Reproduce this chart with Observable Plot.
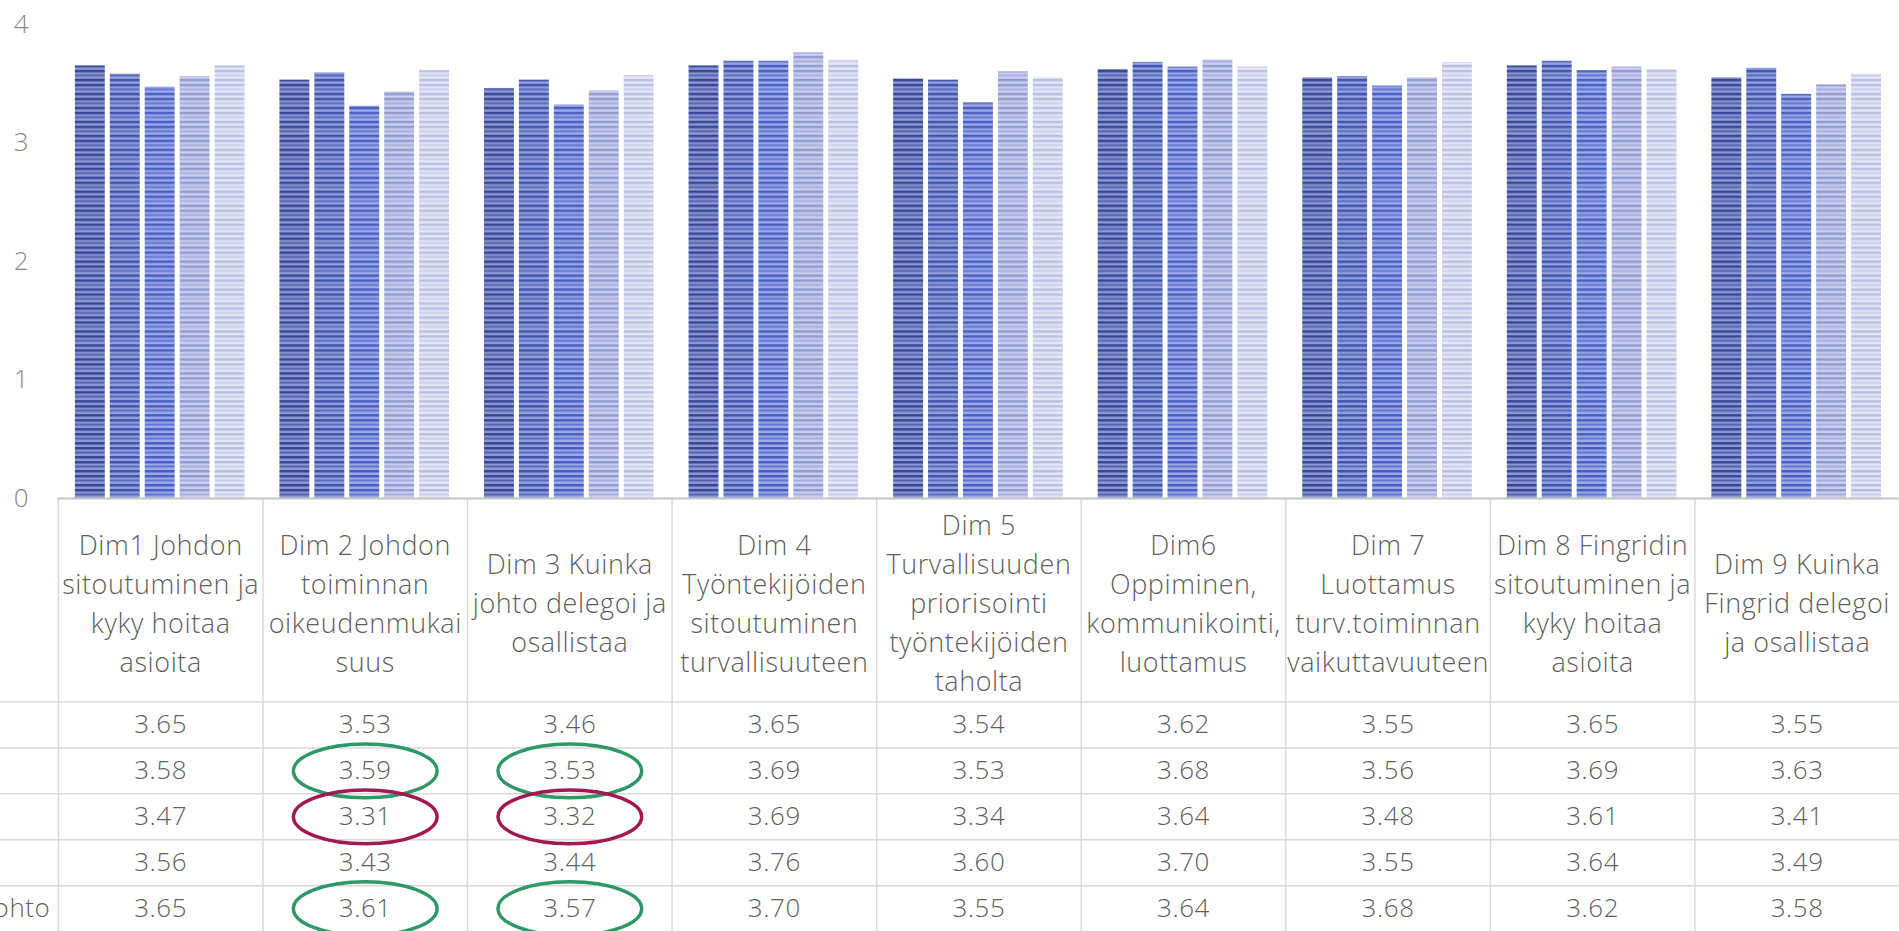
<!DOCTYPE html>
<html>
<head>
<meta charset="utf-8">
<script src="https://cdn.jsdelivr.net/npm/d3@7"></script>
<script src="https://cdn.jsdelivr.net/npm/@observablehq/plot@0.6"></script>
<style>
  html, body { margin: 0; padding: 0; background: #ffffff; }
  #chart { width: 1899px; height: 931px; overflow: hidden; position: relative; background: #fff; }
  #chart svg { display: block; }
  #chart svg.bars { position: relative; z-index: 2; overflow: visible; }
  #chart svg.table { position: relative; z-index: 1; }
</style>
</head>
<body>
<div id="chart"></div>
<script>
// ---------- data ----------
const dims = ["Dim1", "Dim2", "Dim3", "Dim4", "Dim5", "Dim6", "Dim7", "Dim8", "Dim9"];
const dimHeaders = [
  "Dim1 Johdon\nsitoutuminen ja\nkyky hoitaa\nasioita",
  "Dim 2 Johdon\ntoiminnan\noikeudenmukai\nsuus",
  "Dim 3 Kuinka\njohto delegoi ja\nosallistaa",
  "Dim 4\nTyöntekijöiden\nsitoutuminen\nturvallisuuteen",
  "Dim 5\nTurvallisuuden\npriorisointi\ntyöntekijöiden\ntaholta",
  "Dim6\nOppiminen,\nkommunikointi,\nluottamus",
  "Dim 7\nLuottamus\nturv.toiminnan\nvaikuttavuuteen",
  "Dim 8 Fingridin\nsitoutuminen ja\nkyky hoitaa\nasioita",
  "Dim 9 Kuinka\nFingrid delegoi\nja osallistaa"
];
const seriesKeys = ["S1", "S2", "S3", "S4", "S5"];
const rowLabels = ["", "", "", "", "ohto"];   // series names, cropped at the left edge
const series1 = [3.65, 3.53, 3.46, 3.65, 3.54, 3.62, 3.55, 3.65, 3.55];
const series2 = [3.58, 3.59, 3.53, 3.69, 3.53, 3.68, 3.56, 3.69, 3.63];
const series3 = [3.47, 3.31, 3.32, 3.69, 3.34, 3.64, 3.48, 3.61, 3.41];
const series4 = [3.56, 3.43, 3.44, 3.76, 3.60, 3.70, 3.55, 3.64, 3.49];
const series5 = [3.65, 3.61, 3.57, 3.70, 3.55, 3.64, 3.68, 3.62, 3.58];
const yTicks = [0, 1, 2, 3, 4];
const greenMarks = [["Dim2", "S2"], ["Dim3", "S2"], ["Dim2", "S5"], ["Dim3", "S5"]];
const redMarks = [["Dim2", "S3"], ["Dim3", "S3"]];

const seriesValues = [series1, series2, series3, series4, series5];
const table = [];
seriesKeys.forEach((s, si) => dims.forEach((d, di) => table.push({dim: d, series: s, value: seriesValues[si][di]})));
const toObj = ([dim, series]) => ({dim, series});

// ---------- styles ----------
const stripeStyles = [
  {dark: "#36479a", mid: "#5263ae", light: "#8d99d0", edge: "#7d8ac6"},
  {dark: "#4053ae", mid: "#586abf", light: "#95a0da", edge: "#8390d0"},
  {dark: "#485ec4", mid: "#6075d0", light: "#9eaae6", edge: "#8c9bde"},
  {dark: "#929bd2", mid: "#a7aedd", light: "#cacfee", edge: "#b8bee4"},
  {dark: "#babfe3", mid: "#cacfea", light: "#e5e7f6", edge: "#d2d6ee"}
];
const font = "'Open Sans', 'Noto Sans', sans-serif";
const textColor = "#5f5f5f";
const gridColor = "#d9d9d9";

// ---------- bar chart ----------
const barPlot = Plot.plot({
  className: "bars",
  width: 1903, height: 500,
  marginLeft: 58, marginRight: 0, marginTop: 24, marginBottom: 1,
  style: {fontFamily: font, fontSize: "26px", fontWeight: 300, background: "transparent", overflow: "visible"},
  fx: {domain: dims, paddingInner: 0.15, paddingOuter: 0.075, axis: null},
  x: {domain: seriesKeys, paddingInner: 0.14, paddingOuter: 0, axis: null},
  y: {domain: [0, 4], axis: null},
  color: {domain: seriesKeys, range: seriesKeys.map((d, i) => `url(#stripe${i})`)},
  marks: [
    Plot.axisY({ticks: yTicks, tickFormat: d => String(d), tickSize: 0, tickPadding: 45,
      fontSize: 26, fill: "#8a8a8a", label: null}),
    Plot.barY(table, {fx: "dim", x: "series", y: "value", fill: "series"}),
    Plot.ruleY([0], {stroke: "#c4c4c4", strokeWidth: 2, insetLeft: -15.6, insetRight: -15.6})
  ]
});
barPlot.classList.add("bars");

// stripe patterns
const defs = d3.select(barPlot).insert("defs", ":first-child");
stripeStyles.forEach((c, i) => {
  const p = defs.append("pattern").attr("id", `stripe${i}`)
    .attr("patternUnits", "userSpaceOnUse").attr("width", 10).attr("height", 14);
  p.append("rect").attr("width", 10).attr("height", 14).attr("fill", c.light);
  p.append("rect").attr("y", 0).attr("width", 10).attr("height", 2.5).attr("fill", c.dark);
  p.append("rect").attr("y", 4.5).attr("width", 10).attr("height", 2).attr("fill", c.mid);
  p.append("rect").attr("y", 9).attr("width", 10).attr("height", 2.5).attr("fill", c.dark);
});

// ---------- data table ----------
const ellipse = {
  draw(ctx) {
    const rx = 72, ry = 27, k = 0.5523;
    ctx.moveTo(rx, 0);
    ctx.bezierCurveTo(rx, ry * k, rx * k, ry, 0, ry);
    ctx.bezierCurveTo(-rx * k, ry, -rx, ry * k, -rx, 0);
    ctx.bezierCurveTo(-rx, -ry * k, -rx * k, -ry, 0, -ry);
    ctx.bezierCurveTo(rx * k, -ry, rx, -ry * k, rx, 0);
    ctx.closePath();
  }
};

const tablePlot = Plot.plot({
  width: 1903, height: 433,
  marginLeft: 0, marginRight: 0, marginTop: 0, marginBottom: 0,
  style: {fontFamily: font, fontSize: "26px", fontWeight: 300, color: textColor,
    background: "#fff", letterSpacing: "0.6px"},
  x: {type: "band", domain: dims, range: [58, 1903], padding: 0, axis: null},
  y: {type: "band", domain: seriesKeys, range: [203, 433], padding: 0, axis: null},
  marks: [
    Plot.ruleY(seriesKeys, {y: d => d, dy: -23, stroke: gridColor, strokeWidth: 1.5}),
    Plot.ruleX(dims, {x: d => d, dx: -102.5, stroke: gridColor, strokeWidth: 1.5}),
    Plot.text(dims, {x: d => d, frameAnchor: "top", dy: 101.5, text: (d, i) => dimHeaders[i],
      fontSize: 27, lineHeight: 1.45, lineAnchor: "middle", fill: textColor}),
    Plot.text(table, {x: "dim", y: "series", text: d => d.value.toFixed(2), fill: textColor}),
    Plot.text(seriesKeys, {y: d => d, frameAnchor: "left", dx: 50, textAnchor: "end",
      text: (d, i) => rowLabels[i], fill: textColor}),
    Plot.dot(greenMarks.map(toObj), {x: "dim", y: "series", symbol: ellipse, r: 10,
      stroke: "#2f9866", strokeWidth: 3.5, fill: "none"}),
    Plot.dot(redMarks.map(toObj), {x: "dim", y: "series", symbol: ellipse, r: 10,
      stroke: "#a3184f", strokeWidth: 3.5, fill: "none"})
  ]
});
tablePlot.classList.add("table");

const chart = document.getElementById("chart");
chart.appendChild(barPlot);
chart.appendChild(tablePlot);
</script>
</body>
</html>
